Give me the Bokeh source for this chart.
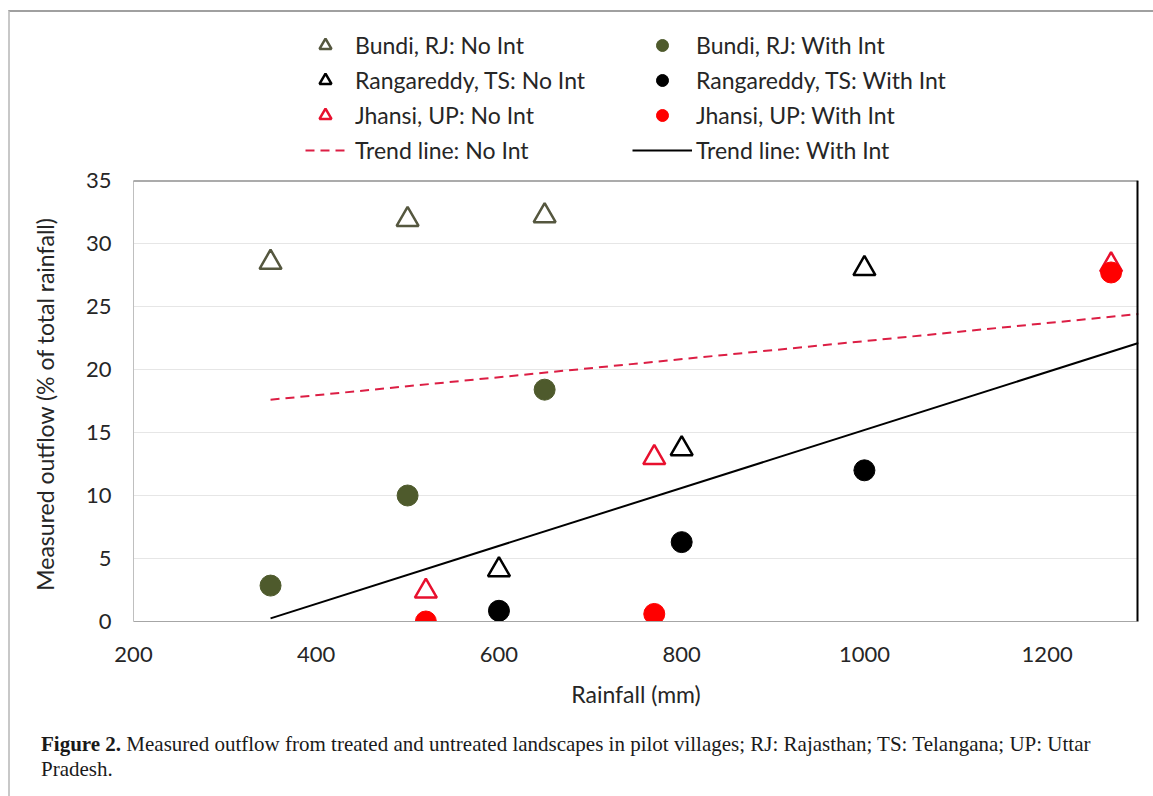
from bokeh.plotting import figure
from bokeh.layouts import column
from bokeh.models import FixedTicker, Span, Legend, LegendItem, Div
from bokeh.embed import file_html
from bokeh.resources import INLINE

# ---------------- data ----------------
bundi_x = [350, 500, 650]
bundi_no = [28.5, 31.9, 32.2]
bundi_with = [2.85, 10.0, 18.4]

ranga_x = [600, 800, 1000]
ranga_no = [4.1, 13.7, 28.0]
ranga_with = [0.85, 6.3, 12.0]

jhansi_x = [520, 770, 1270]
jhansi_no = [2.4, 13.0, 28.3]
jhansi_with = [0.0, 0.6, 27.7]

trend_x = [350, 1300]
trend_no = [17.6, 24.4]
trend_with = [0.25, 22.1]

x_ticks = [200, 400, 600, 800, 1000, 1200]
y_ticks = [0, 5, 10, 15, 20, 25, 30, 35]

legend_no = ["Bundi, RJ: No Int", "Rangareddy, TS: No Int",
             "Jhansi, UP: No Int", "Trend line: No Int"]
legend_with = ["Bundi, RJ: With Int", "Rangareddy, TS: With Int",
               "Jhansi, UP: With Int", "Trend line: With Int"]

caption_bold = "Figure 2."
caption_line1 = ("Measured outflow from treated and untreated landscapes in pilot "
                 "villages; RJ: Rajasthan; TS: Telangana; UP: Uttar")
caption_line2 = "Pradesh."

FONT = "Lato"
TXT = "#262626"

# ---------------- styles ----------------
tri_style = dict(marker="triangle", size=22, fill_color=None, line_width=2.5)
cir_style = dict(marker="circle", size=21)
STY = {
    "bn": dict(line_color="#55573f", **tri_style),
    "rn": dict(line_color="black", **tri_style),
    "jn": dict(line_color="#e8102e", **tri_style),
    "bw": dict(fill_color="#4e5a2c", line_color="#4e5a2c", **cir_style),
    "rw": dict(fill_color="black", line_color="black", **cir_style),
    "jw": dict(fill_color="#ff0000", line_color="#ff0000", **cir_style),
    "tn": dict(line_color="#dc1e44", line_width=2, line_dash="9 6"),
    "tw": dict(line_color="black", line_width=2),
}

W = 1140
FL, FRAME_W = 123, 1005
FR = W - FL - FRAME_W

# ---------------- legend figure ----------------
LH = 153
pl = figure(width=W, height=LH, x_range=(0, 1), y_range=(0, 1),
            min_border_left=FL, min_border_right=FR, min_border_top=0,
            min_border_bottom=0, x_axis_location=None, y_axis_location=None,
            output_backend="svg", toolbar_location=None)
pl.outline_line_color = None
pl.grid.visible = False
pl.border_fill_color = "white"

# off-screen sample glyphs that the legends use for their swatches
lg_r = {}
for k, v in STY.items():
    if k.startswith("t"):
        lg_r[k] = pl.line([-10, -9], [-10, -10], **v)
    else:
        lg_r[k] = pl.scatter([-10], [-10], **v)


def make_legend(labels, keys, loc, gw, standoff):
    items = [LegendItem(label=l, renderers=[lg_r[k]]) for l, k in zip(labels, keys)]
    return Legend(items=items, location=loc, orientation="vertical",
                  glyph_width=gw, glyph_height=30, spacing=5, padding=0, margin=0,
                  label_standoff=standoff, label_text_font=FONT,
                  label_text_font_size="23px", label_text_color=TXT,
                  border_line_color=None, background_fill_alpha=0)


pl.add_layout(make_legend(legend_no, ["bn", "rn", "jn", "tn"], (172, 0), 40, 10))
pl.add_layout(make_legend(legend_with, ["bw", "rw", "jw", "tw"], (499, 0), 60, 4))

# ---------------- main figure ----------------
FT, FB, FRAME_H = 15, 94, 441
p = figure(width=W, height=FT + FRAME_H + FB, x_range=(200, 1300), y_range=(0, 35),
           min_border_left=FL, min_border_right=FR,
           min_border_top=FT, min_border_bottom=FB,
           output_backend="svg", toolbar_location=None)
p.outline_line_color = None
p.border_fill_color = "white"

p.xaxis.ticker = FixedTicker(ticks=x_ticks)
p.yaxis.ticker = FixedTicker(ticks=y_ticks)
for ax in (p.xaxis[0], p.yaxis[0]):
    ax.major_tick_line_color = None
    ax.minor_tick_line_color = None
    ax.major_tick_out = 0
    ax.major_tick_in = 0
    ax.minor_tick_out = 0
    ax.major_label_text_font = FONT
    ax.major_label_text_font_size = "22px"
    ax.major_label_text_color = TXT
    ax.axis_label_text_font = FONT
    ax.axis_label_text_font_size = "23px"
    ax.axis_label_text_font_style = "normal"
    ax.axis_label_text_color = TXT
p.xaxis.axis_line_color = "#a6a6a6"
p.yaxis.axis_line_color = "#bfbfbf"
p.xaxis.major_label_standoff = 25
p.yaxis.major_label_standoff = 22
p.xaxis.axis_label = "Rainfall (mm)"
p.yaxis.axis_label = "Measured outflow  (% of total rainfall)"
p.xaxis.axis_label_standoff = 15
p.yaxis.axis_label_standoff = 24

p.xgrid.grid_line_color = None
p.ygrid.grid_line_color = "#e6e6e6"

p.add_layout(Span(location=35, dimension="width", line_color="#595959", line_width=2))
p.add_layout(Span(location=1300, dimension="height", line_color="black", line_width=4))

p.line(trend_x, trend_no, **STY["tn"])
p.line(trend_x, trend_with, **STY["tw"])
p.scatter(bundi_x, bundi_no, **STY["bn"])
p.scatter(ranga_x, ranga_no, **STY["rn"])
p.scatter(jhansi_x, jhansi_no, **STY["jn"])
p.scatter(bundi_x, bundi_with, **STY["bw"])
p.scatter(ranga_x, ranga_with, **STY["rw"])
p.scatter(jhansi_x, jhansi_with, **STY["jw"])

# ---------------- caption ----------------
cap_html = ('<div style="font-family:\'Liberation Serif\',serif;font-size:21px;'
            'line-height:25px;color:#1a1a1a;padding:12px 0 0 26px;white-space:nowrap;">'
            f'<b>{caption_bold}</b> {caption_line1}<br>{caption_line2}</div>')
pc = Div(text=cap_html, width=W, height=73)

layout = column(pl, p, pc, spacing=0,
                styles={"margin-left": "8px", "margin-top": "10px",
                        "border-left": "2px solid #c8c8c8",
                        "border-top": "2px solid #a0a0a0"})

open("out.html", "w").write(file_html(layout, INLINE))
